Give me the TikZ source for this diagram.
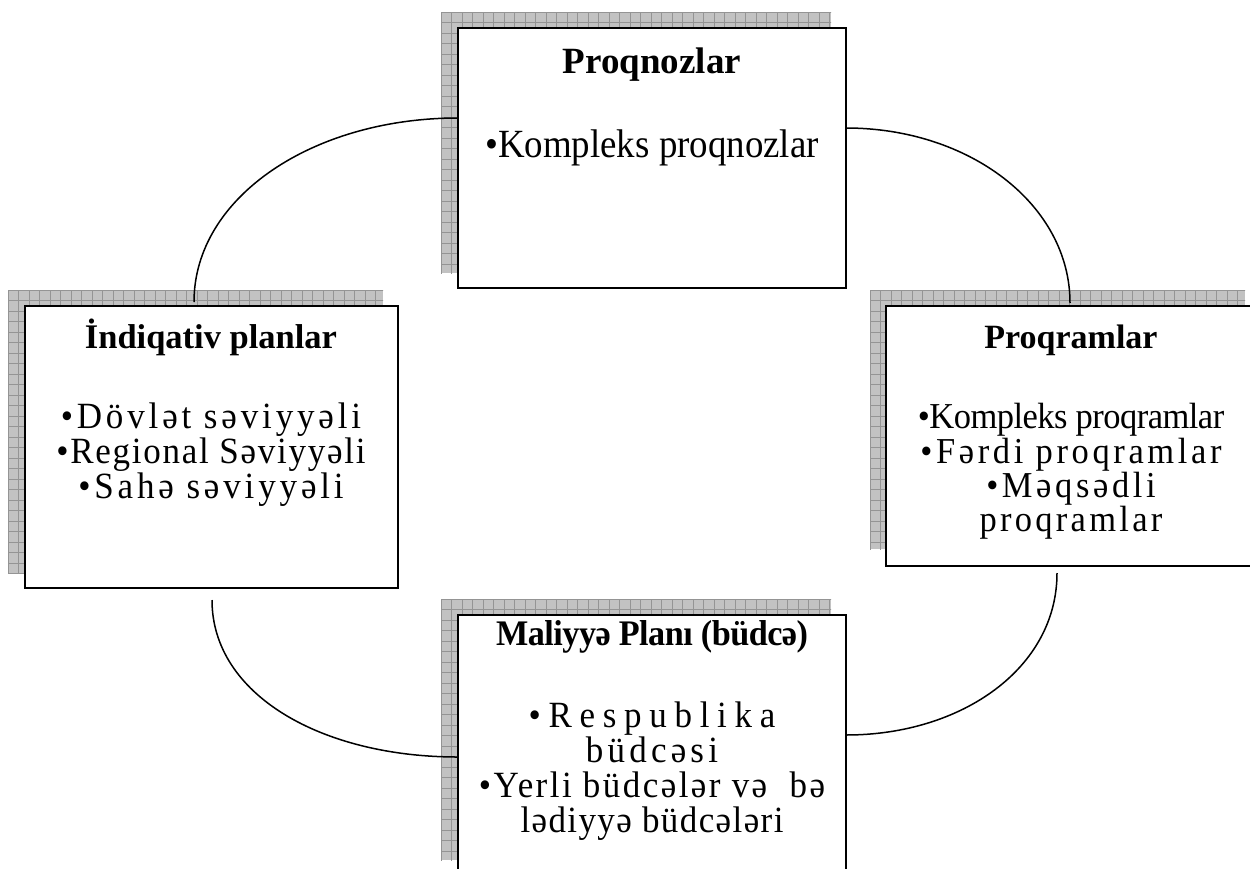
\documentclass[tikz,border=0pt]{standalone}
\usepackage{fontspec}
\setmainfont{Liberation Serif}
\usetikzlibrary{calc}
\newcommand\fs[1]{\fontsize{#1}{#1}\selectfont}
\newcommand\spc[2]{{\addfontfeature{LetterSpace=#1}#2}}
\newcommand\sx[2]{\scalebox{#1}[1]{#2}}
\newcommand\shadowat[4]{%
  \fill[shadowfill] (#1,#2) rectangle (#3,#4);
  \begin{scope}
    \clip (#1,#2) rectangle (#3,#4);
    \draw[gridline, shift={(#1,#2)}, step=10.5pt] (0,0) grid (#3-#1+1,#4-#2+1);
  \end{scope}}
\begin{document}
\begin{tikzpicture}[x=1pt,y=-1pt,
  shadowfill/.style={fill=black!24},
  gridline/.style={draw=black!42, line width=0.7pt},
  boxnode/.style={draw=black, line width=2pt, fill=white, rectangle, inner sep=0pt, outer sep=0pt, anchor=north west},
  conn/.style={draw=black, line width=1.5pt},
  ttl/.style={anchor=base, inner sep=0pt},
  txt/.style={anchor=base, inner sep=0pt, text height=24pt, text depth=6pt}]
\clip (0,0) rectangle (1250,868);
\useasboundingbox (0,0) rectangle (1250,868);
\fill[white] (0,0) rectangle (1250,868);

% shadows
\shadowat{441}{12}{831}{273}
\shadowat{8}{290}{383}{573}
\shadowat{870}{290}{1245}{549}
\shadowat{441}{599}{831}{860}

% boxes
\node[boxnode, minimum width=388pt, minimum height=260pt] (P1) at (458,28) {};
\node[boxnode, minimum width=373pt, minimum height=282pt] (P2) at (25,306) {};
\node[boxnode, minimum width=373pt, minimum height=260pt] (P3) at (886,306) {};
\node[boxnode, minimum width=388pt, minimum height=260pt] (P4) at (458,615) {};

% connectors
\draw[conn] ([shift={(169pt,4pt)}]P2.north west) .. controls +(0,-105) and +(-145,0) .. ([yshift=-90pt]P1.north west);
\draw[conn] ([yshift=-100pt]P1.north east) .. controls +(124,0) and +(0,-98) .. ([shift={(184pt,3pt)}]P3.north west);
\draw[conn] ([shift={(171pt,-7pt)}]P3.south west) .. controls +(0,95) and +(116,0) .. ([yshift=-120pt]P4.north east);
\draw[conn] ([shift={(187pt,-12pt)}]P2.south west) .. controls +(0,95) and +(-136,0) .. ([yshift=-142pt]P4.north west);

% texts: top box
\node[ttl, font={\bfseries\fs{37}}] (t1) at (652,73) {Proqnozlar};
\node[txt, font=\fs{40}] (t1a) at (652,157) {\sx{0.922}{•Kompleks proqnozlar}};

% left box
\node[ttl, font={\bfseries\fs{34.5}}] (t2) at (211,348) {İndiqativ planlar};
\node[txt, font=\fs{37}] (t2a) at (211,428) {\sx{0.946}{\spc{11}{•Dövlət səviyyəli}}};
\node[txt, font=\fs{37}] (t2b) at (211,463) {\sx{0.946}{\spc{5}{•Regional Səviyyəli}}};
\node[txt, font=\fs{37}] (t2c) at (211,498) {\sx{0.946}{\spc{11}{•Sahə səviyyəli}}};

% right box
\node[ttl, font={\bfseries\fs{34}}] (t3) at (1071,348) {Proqramlar};
\node[txt, font=\fs{36.5}] (t3a) at (1071,428) {\sx{0.945}{\spc{-1.5}{•Kompleks proqramlar}}};
\node[txt, font=\fs{36.5}] (t3b) at (1071,463) {\sx{0.945}{\spc{10.5}{•Fərdi proqramlar}}};
\node[txt, font=\fs{36.5}] (t3c) at (1071,497) {\sx{0.945}{\spc{10.5}{•Məqsədli}}};
\node[txt, font=\fs{36.5}] (t3d) at (1071,531) {\sx{0.945}{\spc{9.5}{proqramlar}}};

% bottom box
\node[ttl, font={\bfseries\fs{36}}] (t4) at (652,645) {\sx{0.95}{\spc{-1.5}{Maliyyə Planı (büdcə)}}};
\node[txt, font=\fs{37}] (t4a) at (652,727) {\sx{0.946}{\spc{22}{•Respublika}}};
\node[txt, font=\fs{37}] (t4b) at (652,762) {\sx{0.946}{\spc{12}{büdcəsi}}};
\node[txt, font=\fs{37}] (t4c) at (652,797) {\sx{0.946}{\spc{7}{•Yerli büdcələr və\ \ bə}}};
\node[txt, font=\fs{37}] (t4d) at (652,832) {\sx{0.946}{\spc{4}{lədiyyə büdcələri}}};
\end{tikzpicture}
\end{document}
